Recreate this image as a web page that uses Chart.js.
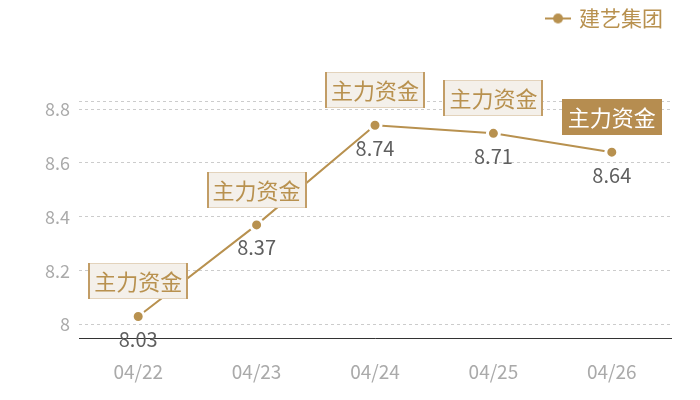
<!DOCTYPE html>
<html>
<head>
<meta charset="utf-8">
<script src="https://cdn.jsdelivr.net/npm/chart.js@4"></script>
<style>
  html, body { margin: 0; padding: 0; background: #fff; }
  #wrap { width: 700px; height: 400px; }
</style>
</head>
<body>
<div id="wrap"><canvas id="myChart"></canvas></div>
<script>
const labels = ["04/22", "04/23", "04/24", "04/25", "04/26"];
const prices = [8.03, 8.37, 8.74, 8.71, 8.64];
const tags = ["主力资金", "主力资金", "主力资金", "主力资金", "主力资金"];
const yTicks = [8, 8.2, 8.4, 8.6, 8.8];
const yMin = 7.95;
const yMax = 8.83;
const seriesName = "建艺集团";
const activeIdx = 4;

const gold = "#b8914f";
const font = '"Noto Sans CJK SC", "Noto Sans", sans-serif';

// legend icon: short line with a dot, like the original
const icon = document.createElement('canvas');
icon.width = 26; icon.height = 12;
(function () {
  const c = icon.getContext('2d');
  c.strokeStyle = gold; c.lineWidth = 2;
  c.beginPath(); c.moveTo(0, 6); c.lineTo(26, 6); c.stroke();
  c.fillStyle = gold;
  c.beginPath(); c.arc(13, 6, 5, 0, Math.PI * 2); c.fill();
})();

// leave room under the legend
const legendGap = {
  id: 'legendGap',
  beforeLayout(chart) {
    const lg = chart.legend;
    if (!lg || lg._gapPatched) return;
    const fit = lg.fit;
    lg.fit = function () { fit.call(this); this.height += 62; };
    lg._gapPatched = true;
  }
};

const tagPlugin = {
  id: 'tags',
  afterDatasetsDraw(chart) {
    const ctx = chart.ctx;
    const meta = chart.getDatasetMeta(0);
    ctx.save();
    meta.data.forEach((pt, i) => {
      const x = pt.x, y = pt.y;
      // value under the point
      ctx.font = '20px ' + font;
      ctx.fillStyle = '#5f5f5f';
      ctx.textAlign = 'center';
      ctx.textBaseline = 'middle';
      ctx.fillText(prices[i].toFixed(2), x, y + 23);

      // tag box above the point
      ctx.font = '22px ' + font;
      const w = ctx.measureText(tags[i]).width + 12;
      const h = 36;
      const bx = Math.round(x - w / 2), by = Math.round(y - 17 - h);
      if (i === activeIdx) {
        ctx.fillStyle = '#b68d50';
        ctx.fillRect(bx, by, w, h);
        ctx.fillStyle = '#ffffff';
      } else {
        ctx.fillStyle = '#f4f0ea';
        ctx.fillRect(bx, by, w, h);
        ctx.strokeStyle = '#e3d3bc';
        ctx.lineWidth = 1;
        ctx.strokeRect(bx + 0.5, by + 0.5, w - 1, h - 1);
        ctx.strokeStyle = '#c29d66';
        ctx.lineWidth = 2;
        ctx.beginPath();
        ctx.moveTo(bx + 1, by); ctx.lineTo(bx + 1, by + h);
        ctx.moveTo(bx + w - 1, by); ctx.lineTo(bx + w - 1, by + h);
        ctx.stroke();
        ctx.fillStyle = gold;
      }
      ctx.fillText(tags[i], x, by + h / 2 + 1);
    });
    ctx.restore();
  }
};

const ctx = document.getElementById('myChart').getContext('2d');
const myChart = new Chart(ctx, {
  type: 'line',
  data: {
    labels: labels,
    datasets: [{
      label: seriesName,
      data: prices,
      borderColor: gold,
      backgroundColor: gold,
      borderWidth: 2,
      pointRadius: 6,
      pointBorderWidth: 3,
      pointBorderColor: '#ffffff',
      pointBackgroundColor: gold,
      pointStyle: 'circle',
      tension: 0,
      fill: false,
    }]
  },
  options: {
    responsive: true,
    maintainAspectRatio: false,
    animation: false,
    layout: { padding: { left: 0, right: 29, top: 0, bottom: 0 } },
    plugins: {
      tooltip: { enabled: false },
      legend: {
        position: 'top',
        align: 'end',
        labels: {
          usePointStyle: true,
          pointStyle: icon,
          color: gold,
          font: { size: 21, family: font },
          padding: 8,
        },
        onClick: null,
      },
    },
    scales: {
      x: {
        offset: true,
        afterFit(axis) { axis.height = 62; },
        grid: { display: false, drawTicks: false },
        border: { display: true, color: '#333333', width: 1 },
        ticks: { color: '#aaaaaa', font: { size: 19, family: font }, padding: 22 },
      },
      y: {
        min: yMin,
        max: yMax,
        afterBuildTicks(axis) {
          axis.ticks = [yMin].concat(yTicks, [yMax]).map(v => ({ value: v }));
        },
        afterFit(axis) { axis.width = 79; },
        border: { display: false, dash: [3, 3] },
        grid: {
          color: '#cccccc',
          lineWidth: 1,
          drawTicks: false,
        },
        ticks: {
          color: '#aaaaaa',
          font: { size: 18, family: font },
          padding: 9,
          callback: (v) => yTicks.includes(v) ? String(v) : '',
        },
      }
    }
  },
  plugins: [legendGap, tagPlugin]
});
</script>
</body>
</html>
